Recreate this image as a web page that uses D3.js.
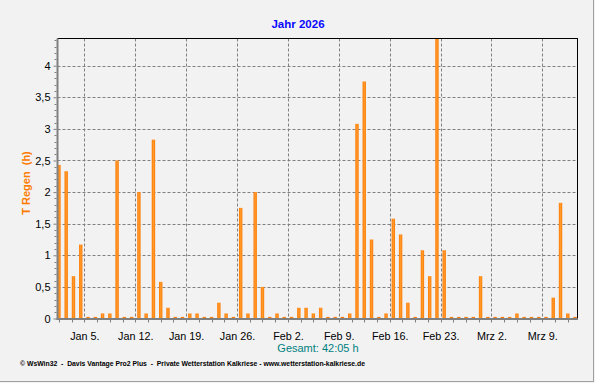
<!DOCTYPE html>
<html><head><meta charset="utf-8">
<script src="https://cdn.jsdelivr.net/npm/d3@7"></script>
<style>
html,body{margin:0;padding:0;background:#f2f2f2;}
svg{display:block;}
text{font-family:"Liberation Sans",Arial,sans-serif;}
</style></head>
<body>
<script>
// ---- data ----
const startDate = "2026-01-01";
const endDate = "2026-03-14";
const rainHours = [
  2.43, 2.33, 0.67, 1.17, 0, 0, 0.08, 0.08, 2.5, 0,
  0, 2.0, 0.08, 2.83, 0.58, 0.17, 0, 0, 0.08, 0.08,
  0, 0, 0.25, 0.08, 0, 1.75, 0.08, 2.0, 0.5, 0,
  0.08, 0, 0, 0.17, 0.17, 0.08, 0.17, 0, 0, 0,
  0.08, 3.08, 3.75, 1.25, 0, 0.08, 1.58, 1.33, 0.25, 0,
  1.08, 0.67, 4.45, 1.08, 0, 0, 0, 0, 0.67, 0,
  0, 0, 0, 0.08, 0, 0, 0, 0, 0.33, 1.83,
  0.08, 0
];
const weekTickDates = ["2026-01-05","2026-01-12","2026-01-19","2026-01-26","2026-02-02","2026-02-09","2026-02-16","2026-02-23","2026-03-02","2026-03-09"];
const weekTickLabels = ["Jan 5.","Jan 12.","Jan 19.","Jan 26.","Feb 2.","Feb 9.","Feb 16.","Feb 23.","Mrz 2.","Mrz 9."];
const yTicks = [0, 0.5, 1, 1.5, 2, 2.5, 3, 3.5, 4];
const yMax = 4.43;
const title = "Jahr 2026";
const yLabel = "T Regen  (h)";
const totalText = "Gesamt: 42:05 h";
const footer = "© WsWin32  -  Davis Vantage Pro2 Plus  -  Private Wetterstation Kalkriese - www.wetterstation-kalkriese.de";

// ---- layout ----
const W = 595, H = 383;
const L = 57.5, R = 577.5, T = 38.5, B = 318.5;
const parse = d3.utcParse("%Y-%m-%d");
const DAY = 86400000;

const svg = d3.select("body").append("svg").attr("width", W).attr("height", H);
svg.append("rect").attr("width", W).attr("height", H).attr("fill", "#f2f2f2");
svg.append("line").attr("x1", 593.5).attr("x2", 593.5).attr("y1", 0).attr("y2", 382).attr("stroke", "#a0a0a0").attr("stroke-width", 1);
svg.append("line").attr("x1", 0).attr("x2", 594).attr("y1", 381.5).attr("y2", 381.5).attr("stroke", "#a0a0a0").attr("stroke-width", 1);

const x = d3.scaleUtc().domain([parse(startDate), parse(endDate)]).range([55.3, 578.7]);
const y = d3.scaleLinear().domain([0, yMax]).range([B, T]);

const grad = svg.append("defs").append("linearGradient").attr("id", "barg").attr("x1", "0").attr("x2", "1").attr("y1", "0").attr("y2", "0");
grad.append("stop").attr("offset", "0").attr("stop-color", "#ff7a00");
grad.append("stop").attr("offset", "0.5").attr("stop-color", "#ff9a2e");
grad.append("stop").attr("offset", "1").attr("stop-color", "#ff7a00");

svg.append("clipPath").attr("id", "clip").append("rect").attr("x", L).attr("y", T).attr("width", R - L).attr("height", B - T + 2);

// gridlines
const gx = svg.append("g");
gx.selectAll("line.h").data(yTicks.filter(d => d > 0)).join("line")
  .attr("x1", L).attr("x2", R).attr("y1", d => Math.round(y(d)) + 0.5).attr("y2", d => Math.round(y(d)) + 0.5)
  .attr("stroke", "#808080").attr("stroke-dasharray", "3,2");
gx.selectAll("line.v").data(weekTickDates.map(parse)).join("line")
  .attr("x1", d => Math.round(x(d)) + 0.5).attr("x2", d => Math.round(x(d)) + 0.5).attr("y1", T).attr("y2", B)
  .attr("stroke", "#808080").attr("stroke-dasharray", "3,2");

// bars
const days = rainHours.map((v, i) => ({ date: new Date(parse(startDate).getTime() + i * DAY), v }));
const bw = 3.4;
const bars = svg.append("g").attr("clip-path", "url(#clip)");
bars.selectAll("rect").data(days).join("rect")
  .attr("x", d => x(new Date(d.date.getTime() + DAY / 2)) - bw / 2)
  .attr("width", bw)
  .attr("y", d => d.v > 0 ? y(d.v) : B - 1.6)
  .attr("height", d => d.v > 0 ? B - y(d.v) : 1.6)
  .attr("fill", d => d.v > 0 ? "url(#barg)" : "#ff7a00");

// frame: top and right black
svg.append("line").attr("x1", L).attr("x2", R + 0.5).attr("y1", T).attr("y2", T).attr("stroke", "#000");
svg.append("line").attr("x1", R).attr("x2", R).attr("y1", T).attr("y2", B + 1).attr("stroke", "#000");

// y axis
const yAxis = d3.axisLeft(y).tickValues(yTicks).tickSize(3).tickPadding(3)
  .tickFormat(d => String(d).replace(".", ","));
const ya = svg.append("g").attr("transform", `translate(${L - 1},0)`).call(yAxis);
ya.select(".domain").remove();
ya.selectAll("line").attr("stroke", "#808080");
ya.selectAll("text").attr("font-size", "11px").attr("fill", "#000");
const minorY = d3.range(0, 4.41, 0.1).filter(v => Math.abs(v * 2 - Math.round(v * 2)) > 1e-6);
svg.append("g").selectAll("line").data(minorY).join("line")
  .attr("x1", L - 3).attr("x2", L - 1).attr("y1", d => Math.round(y(d)) + 0.5).attr("y2", d => Math.round(y(d)) + 0.5)
  .attr("stroke", "#808080");
svg.append("line").attr("x1", L).attr("x2", L).attr("y1", T).attr("y2", B + 1.5).attr("stroke", "#808080").attr("stroke-width", 2);

// x axis
const minorX = [];
for (let k = -3; k < 50; k++) {
  const t = parse(weekTickDates[0]).getTime() + k * 1.75 * DAY;
  if (x(new Date(t)) > L && x(new Date(t)) < R) minorX.push(new Date(t));
}
svg.append("g").selectAll("line").data(minorX).join("line")
  .attr("x1", d => Math.round(x(d)) + 0.5).attr("x2", d => Math.round(x(d)) + 0.5)
  .attr("y1", B + 1).attr("y2", B + 4).attr("stroke", "#808080");
svg.append("line").attr("x1", L - 1).attr("x2", R + 0.5).attr("y1", B + 0.5).attr("y2", B + 0.5).attr("stroke", "#808080").attr("stroke-width", 2);
const xAxis = d3.axisBottom(x).tickValues(weekTickDates.map(parse)).tickSize(0).tickPadding(14)
  .tickFormat((d, i) => weekTickLabels[i]);
const xa = svg.append("g").attr("transform", `translate(0,${B})`).call(xAxis);
xa.select(".domain").remove();
xa.selectAll("text").attr("font-size", "10.8px").attr("fill", "#000");

// texts
svg.append("text").attr("x", 298).attr("y", 27.5).attr("text-anchor", "middle")
  .attr("font-size", "11.5px").attr("font-weight", "bold").attr("fill", "#0a0aff").text(title);
svg.append("text").attr("transform", "translate(29.5,183) rotate(-90)").attr("text-anchor", "middle")
  .attr("font-size", "11px").attr("font-weight", "bold").attr("fill", "#ff7a00").style("white-space", "pre").text(yLabel);
svg.append("text").attr("x", 318).attr("y", 351.5).attr("text-anchor", "middle")
  .attr("font-size", "11px").attr("fill", "#008080").text(totalText);
svg.append("text").attr("x", 20).attr("y", 366).attr("font-size", "6.8px").attr("font-weight", "bold")
  .attr("textLength", 345).attr("lengthAdjust", "spacingAndGlyphs").style("white-space", "pre").attr("fill", "#000").text(footer);
</script>
</body></html>
